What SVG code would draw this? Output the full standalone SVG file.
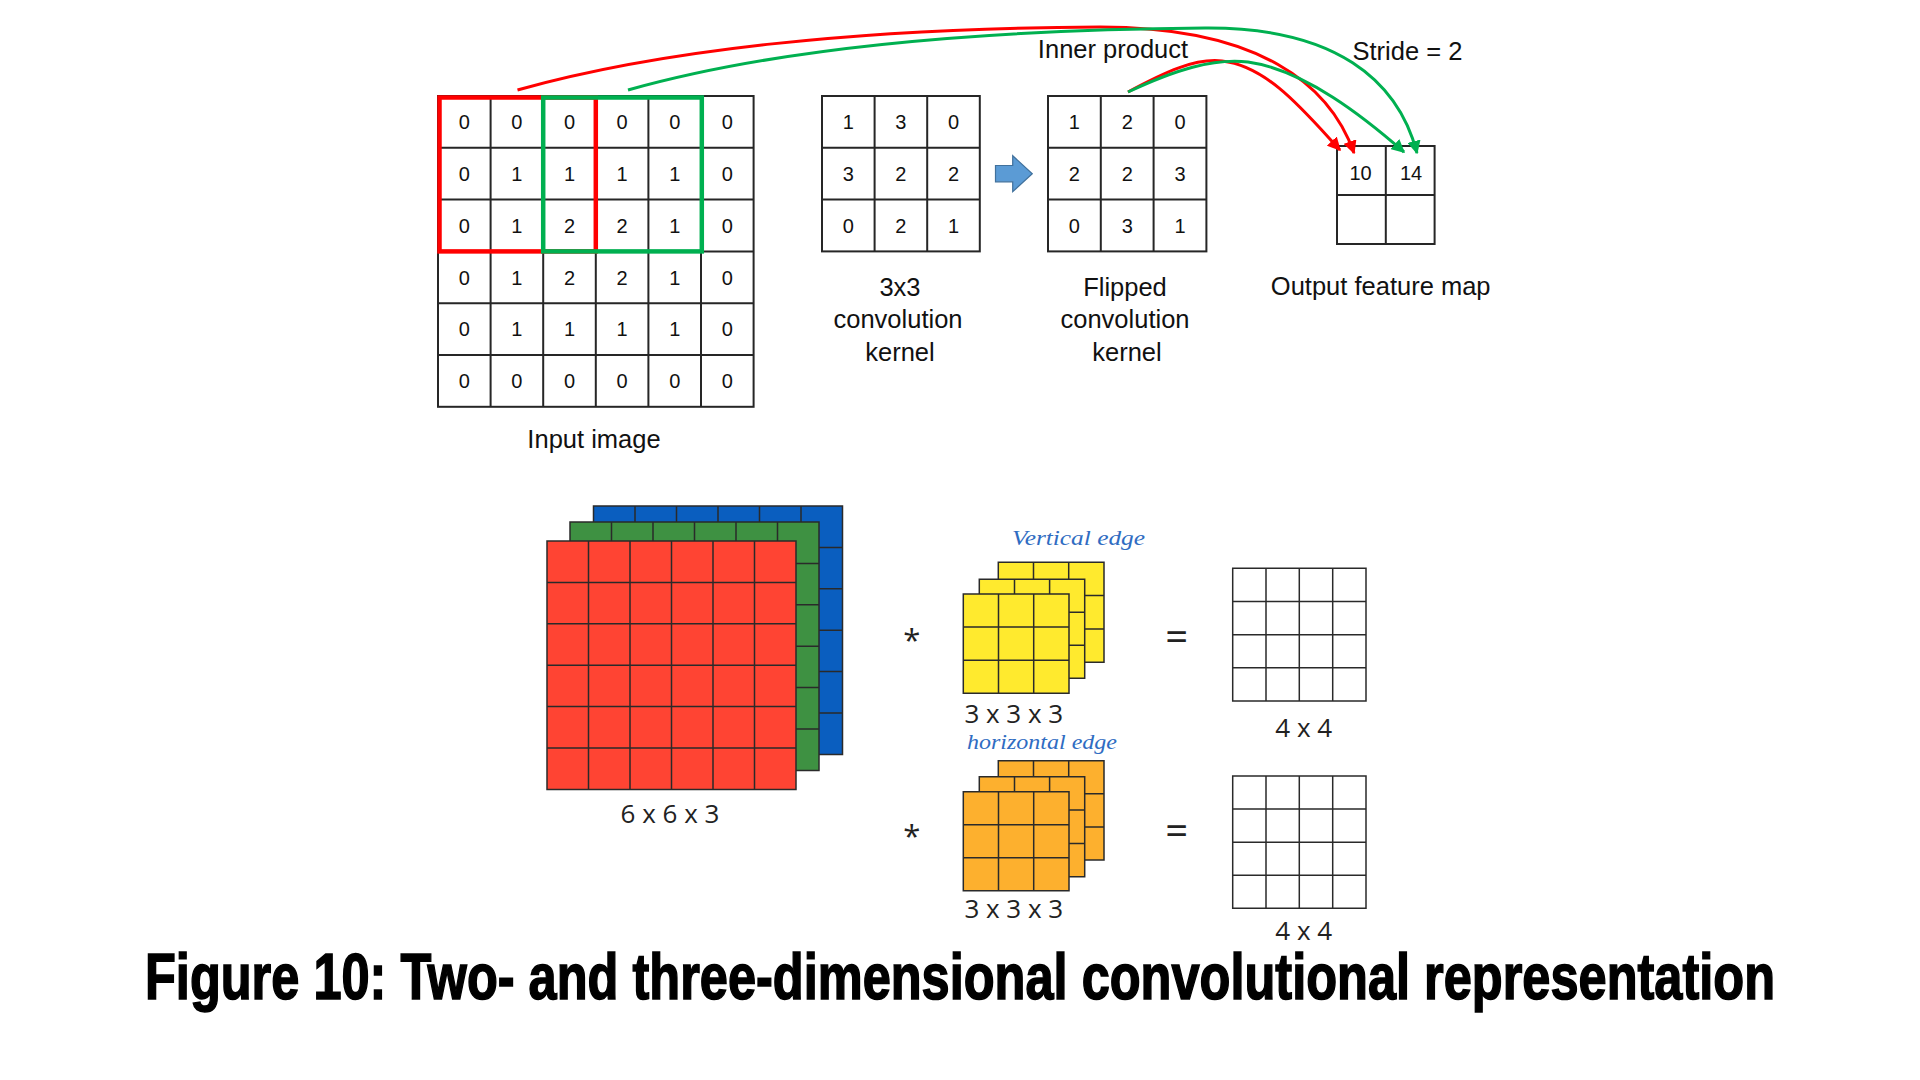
<svg xmlns="http://www.w3.org/2000/svg" width="1920" height="1080" viewBox="0 0 1920 1080">
<style>
.grid{fill:#fff;stroke:#262626;stroke-width:2}
.gl{fill:none;stroke:#262626;stroke-width:2}
.num{font-family:"Liberation Sans",Arial,sans-serif;font-size:20px;fill:#111;text-anchor:middle}
.lbl{font-family:"Liberation Sans",Arial,sans-serif;font-size:25.5px;fill:#111;text-anchor:middle}
.dim{font-family:"Open Sans","Liberation Sans",sans-serif;font-size:26px;fill:#222;text-anchor:middle}
.op{font-family:"Open Sans","Liberation Sans",sans-serif;font-size:40px;fill:#222;text-anchor:middle}
.ast{font-family:"Open Sans","Liberation Sans",sans-serif;font-size:31px;fill:#222;text-anchor:middle}
.hand{font-family:"Liberation Serif",serif;font-style:italic;font-size:21px;fill:#2f6cc2}
.cl{fill:none;stroke:#2a2a2a;stroke-width:1.5}
.red{stroke:#ff0000}
.green{stroke:#00b050}
.conn{fill:none;stroke-width:3}
.title{font-family:"Liberation Sans",Arial,sans-serif;font-weight:bold;font-size:65px;fill:#000;stroke:#000;stroke-width:1.6}
</style>
<defs>
<marker id="ahr" viewBox="0 0 10 10" refX="9" refY="5" markerWidth="4.5" markerHeight="4.5" orient="auto" markerUnits="strokeWidth"><path d="M0,0 L10,5 L0,10 z" fill="#ff0000"/></marker>
<marker id="ahg" viewBox="0 0 10 10" refX="9" refY="5" markerWidth="4.5" markerHeight="4.5" orient="auto" markerUnits="strokeWidth"><path d="M0,0 L10,5 L0,10 z" fill="#00b050"/></marker>
</defs>
<rect width="1920" height="1080" fill="#fff"/>

<g id="input-image">
<rect class="grid" x="438" y="96" width="315.6" height="310.8"/>
<path class="gl" d="M490.6,96V406.8M543.2,96V406.8M595.8,96V406.8M648.4,96V406.8M701,96V406.8M438,147.8H753.6M438,199.6H753.6M438,251.4H753.6M438,303.2H753.6M438,355H753.6"/>
<g class="num">
<text x="464.3" y="129">0</text><text x="516.9" y="129">0</text><text x="569.5" y="129">0</text><text x="622.1" y="129">0</text><text x="674.7" y="129">0</text><text x="727.3" y="129">0</text>
<text x="464.3" y="181">0</text><text x="516.9" y="181">1</text><text x="569.5" y="181">1</text><text x="622.1" y="181">1</text><text x="674.7" y="181">1</text><text x="727.3" y="181">0</text>
<text x="464.3" y="232.5">0</text><text x="516.9" y="232.5">1</text><text x="569.5" y="232.5">2</text><text x="622.1" y="232.5">2</text><text x="674.7" y="232.5">1</text><text x="727.3" y="232.5">0</text>
<text x="464.3" y="284.5">0</text><text x="516.9" y="284.5">1</text><text x="569.5" y="284.5">2</text><text x="622.1" y="284.5">2</text><text x="674.7" y="284.5">1</text><text x="727.3" y="284.5">0</text>
<text x="464.3" y="336">0</text><text x="516.9" y="336">1</text><text x="569.5" y="336">1</text><text x="622.1" y="336">1</text><text x="674.7" y="336">1</text><text x="727.3" y="336">0</text>
<text x="464.3" y="388">0</text><text x="516.9" y="388">0</text><text x="569.5" y="388">0</text><text x="622.1" y="388">0</text><text x="674.7" y="388">0</text><text x="727.3" y="388">0</text>
</g>
<rect x="439.5" y="97.5" width="156.3" height="153.9" fill="none" stroke="#ff0000" stroke-width="4.5"/>
<rect x="543.2" y="97.5" width="158.6" height="153.9" fill="none" stroke="#00b050" stroke-width="4.5"/>
<text class="lbl" x="594" y="448">Input image</text>
</g>

<g id="kernel">
<rect class="grid" x="822" y="96" width="157.8" height="155.4"/>
<path class="gl" d="M874.6,96V251.4M927.2,96V251.4M822,147.8H979.8M822,199.6H979.8"/>
<g class="num">
<text x="848.3" y="129">1</text><text x="900.9" y="129">3</text><text x="953.5" y="129">0</text>
<text x="848.3" y="181">3</text><text x="900.9" y="181">2</text><text x="953.5" y="181">2</text>
<text x="848.3" y="232.5">0</text><text x="900.9" y="232.5">2</text><text x="953.5" y="232.5">1</text>
</g>
<text class="lbl" x="900" y="296">3x3</text>
<text class="lbl" x="898" y="328">convolution</text>
<text class="lbl" x="900" y="361">kernel</text>
</g>

<g id="flip-arrow">
<path d="M995.5,165.5 H1012.7 V155.7 L1032.3,173.7 L1012.7,191.7 V181.8 H995.5 Z" fill="#5b9bd5" stroke="#41719c" stroke-width="1.2"/>
</g>

<g id="flipped-kernel">
<rect class="grid" x="1048" y="96" width="158.4" height="155.4"/>
<path class="gl" d="M1100.8,96V251.4M1153.6,96V251.4M1048,147.8H1206.4M1048,199.6H1206.4"/>
<g class="num">
<text x="1074.4" y="129">1</text><text x="1127.2" y="129">2</text><text x="1180" y="129">0</text>
<text x="1074.4" y="181">2</text><text x="1127.2" y="181">2</text><text x="1180" y="181">3</text>
<text x="1074.4" y="232.5">0</text><text x="1127.2" y="232.5">3</text><text x="1180" y="232.5">1</text>
</g>
<text class="lbl" x="1125" y="296">Flipped</text>
<text class="lbl" x="1125" y="328">convolution</text>
<text class="lbl" x="1127" y="361">kernel</text>
</g>

<g id="output-map">
<rect class="grid" x="1337" y="146" width="97.6" height="98"/>
<path class="gl" d="M1385.8,146V244M1337,195H1434.6"/>
<text class="num" x="1360.5" y="180">10</text>
<text class="num" x="1411" y="180">14</text>
<text class="lbl" x="1380.7" y="295">Output feature map</text>
</g>

<g id="connectors">
<path class="conn red" d="M517.5,90 C660,50 860,28 1100,27 C1260,27 1330,85 1354,153" marker-end="url(#ahr)"/>
<path class="conn green" d="M628,90 C770,50 960,30 1205,28 C1335,27 1398,80 1417,153" marker-end="url(#ahg)"/>
<path class="conn red" d="M1128,92 C1165,72 1195,58 1222,61 C1268,66 1305,112 1340,150" marker-end="url(#ahr)"/>
<path class="conn green" d="M1128,92 C1175,70 1213,58 1248,62 C1305,70 1365,118 1404,152" marker-end="url(#ahg)"/>
</g>

<g id="annotations">
<text class="lbl" x="1113" y="58">Inner product</text>
<text class="lbl" x="1407.4" y="60">Stride = 2</text>
</g>

<g id="rgb-volume">
<rect x="593.5" y="506" width="249" height="248.4" fill="#0a5ebf"/>
<path class="cl" d="M593.5,506h249v248.4h-249zM635,506V754.4M676.5,506V754.4M718,506V754.4M759.5,506V754.4M801,506V754.4M593.5,547.4H842.5M593.5,588.8H842.5M593.5,630.2H842.5M593.5,671.6H842.5M593.5,713H842.5"/>
<rect x="570" y="522" width="249" height="248.4" fill="#3e9142"/>
<path class="cl" d="M570,522h249v248.4h-249zM611.5,522V770.4M653,522V770.4M694.5,522V770.4M736,522V770.4M777.5,522V770.4M570,563.4H819M570,604.8H819M570,646.2H819M570,687.6H819M570,729H819"/>
<rect x="547" y="541" width="249" height="248.4" fill="#ff4433"/>
<path class="cl" d="M547,541h249v248.4h-249zM588.5,541V789.4M630,541V789.4M671.5,541V789.4M713,541V789.4M754.5,541V789.4M547,582.4H796M547,623.8H796M547,665.2H796M547,706.6H796M547,748H796"/>
<text class="dim" x="670" y="823">6 x 6 x 3</text>
</g>

<g id="kernel-vertical">
<rect x="998.3" y="562.3" width="105.7" height="100" fill="#ffea2e"/>
<path class="cl" d="M998.3,562.3h105.7v100h-105.7zM1033.5,562.3V662.3M1068.7,562.3V662.3M998.3,595.6H1104M998.3,629H1104"/>
<rect x="979.3" y="579.3" width="105.4" height="99" fill="#ffea2e"/>
<path class="cl" d="M979.3,579.3h105.4v99h-105.4zM1014.5,579.3V678.3M1049.6,579.3V678.3M979.3,612.3H1084.7M979.3,645.3H1084.7"/>
<rect x="963.3" y="594" width="105.7" height="99.3" fill="#ffea2e"/>
<path class="cl" d="M963.3,594h105.7v99.3h-105.7zM998.5,594V693.3M1033.7,594V693.3M963.3,627.1H1069M963.3,660.2H1069"/>
<text class="dim" x="1013.8" y="723.3">3 x 3 x 3</text>
<text class="hand" x="1012" y="545" textLength="133" lengthAdjust="spacingAndGlyphs">Vertical edge</text>
</g>

<g id="kernel-horizontal">
<rect x="998.3" y="760.7" width="105.7" height="99.3" fill="#fdb02e"/>
<path class="cl" d="M998.3,760.7h105.7v99.3h-105.7zM1033.5,760.7V860M1068.7,760.7V860M998.3,793.8H1104M998.3,826.9H1104"/>
<rect x="979.3" y="776.7" width="105.4" height="100" fill="#fdb02e"/>
<path class="cl" d="M979.3,776.7h105.4v100h-105.4zM1014.5,776.7V876.7M1049.6,776.7V876.7M979.3,810H1084.7M979.3,843.4H1084.7"/>
<rect x="963.3" y="791.7" width="105.7" height="99" fill="#fdb02e"/>
<path class="cl" d="M963.3,791.7h105.7v99h-105.7zM998.5,791.7V890.7M1033.7,791.7V890.7M963.3,824.7H1069M963.3,857.7H1069"/>
<text class="dim" x="1013.8" y="918.3">3 x 3 x 3</text>
<text class="hand" x="967" y="749" textLength="150" lengthAdjust="spacingAndGlyphs">horizontal edge</text>
</g>

<g id="result-1">
<rect x="1232.7" y="568.3" width="133.3" height="132.7" fill="#fff"/>
<path class="cl" d="M1232.7,568.3h133.3v132.7h-133.3zM1266,568.3V701M1299.3,568.3V701M1332.7,568.3V701M1232.7,601.5H1366M1232.7,634.7H1366M1232.7,667.8H1366"/>
<text class="dim" x="1303.7" y="736.7">4 x 4</text>
</g>

<g id="result-2">
<rect x="1232.7" y="776" width="133.3" height="132.3" fill="#fff"/>
<path class="cl" d="M1232.7,776h133.3v132.3h-133.3zM1266,776V908.3M1299.3,776V908.3M1332.7,776V908.3M1232.7,809.1H1366M1232.7,842.2H1366M1232.7,875.2H1366"/>
<text class="dim" x="1303.7" y="940">4 x 4</text>
</g>

<g id="operators">
<text class="ast" x="911.7" y="651">*</text>
<text class="ast" x="911.7" y="847">*</text>
<text class="op" x="1176.7" y="651">=</text>
<text class="op" x="1176.7" y="845">=</text>
</g>

<g id="title">
<text class="title" x="145" y="999" textLength="1630" lengthAdjust="spacingAndGlyphs">Figure 10: Two- and three-dimensional convolutional representation</text>
</g>
</svg>
